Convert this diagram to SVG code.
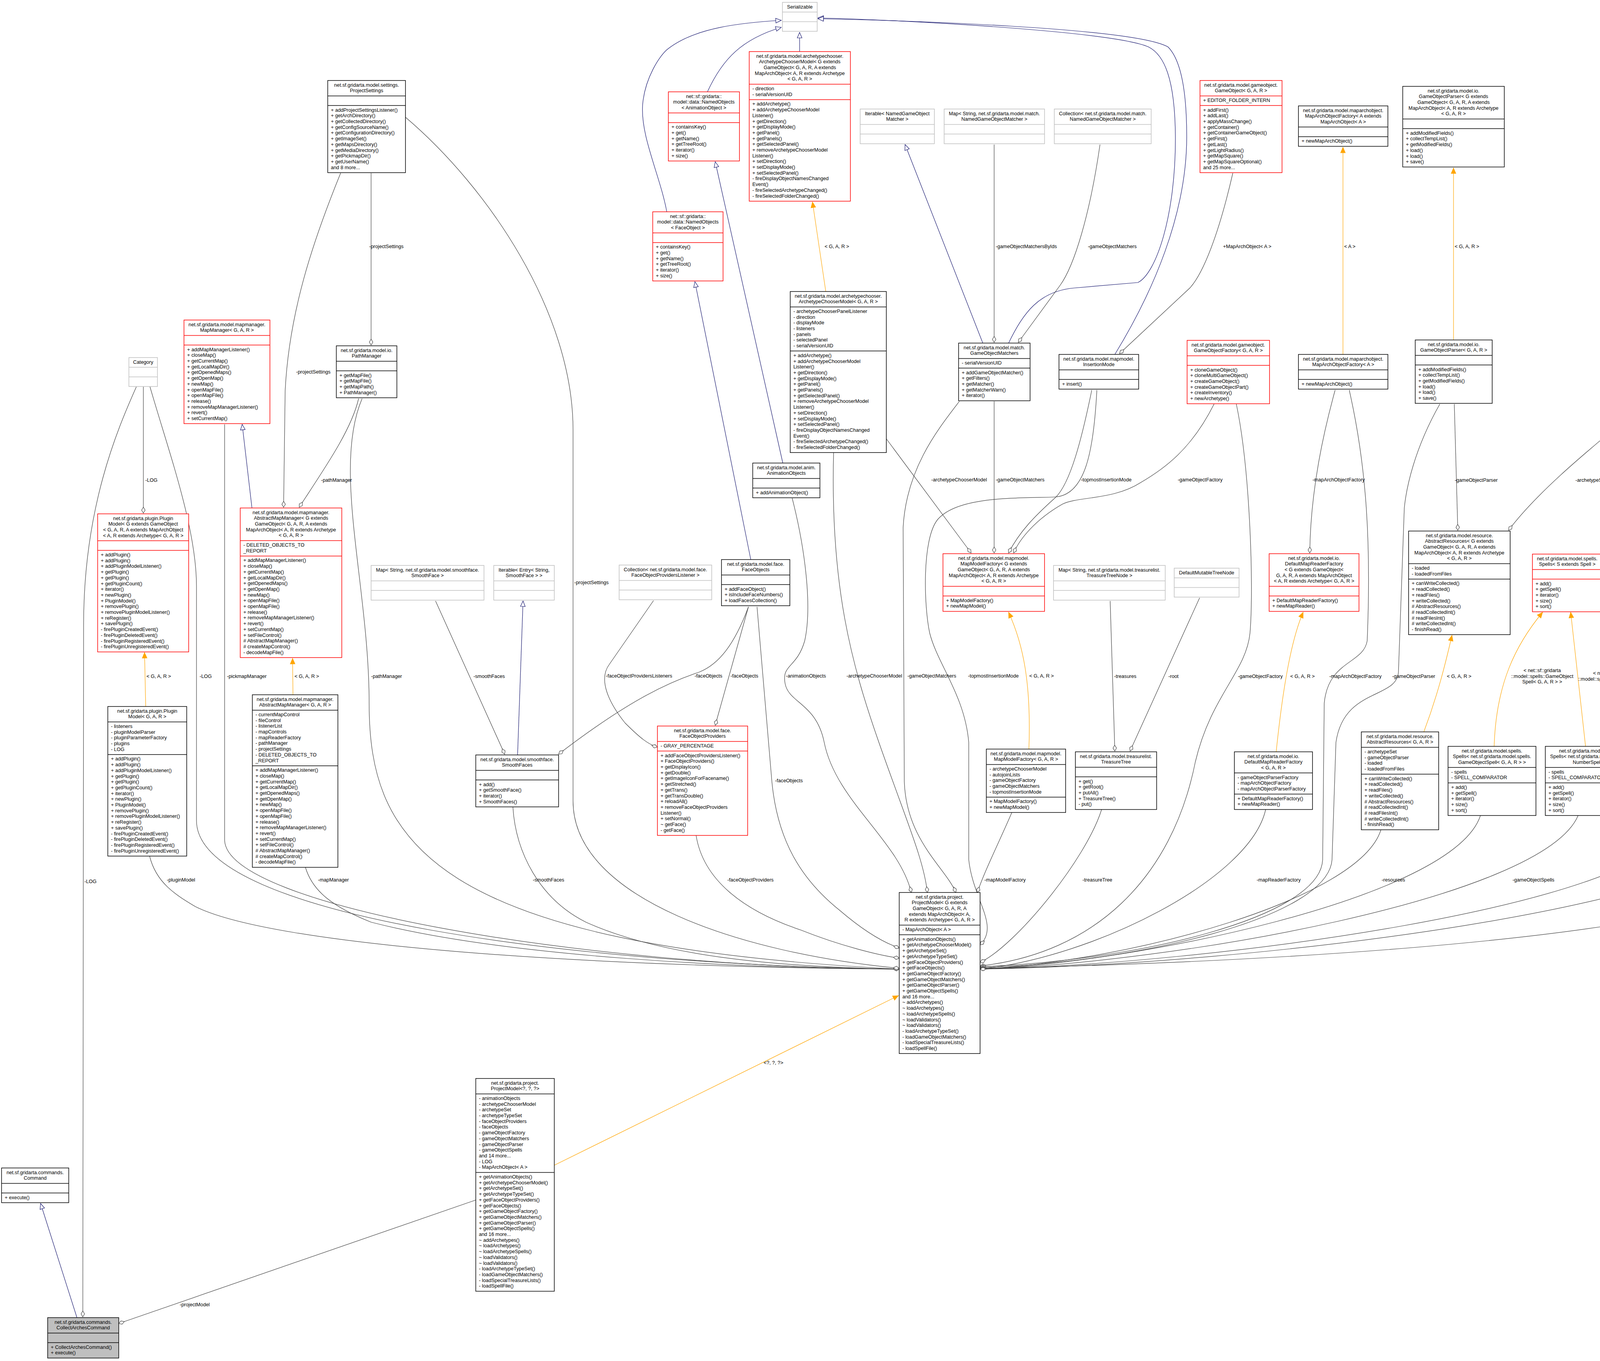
<svg xmlns="http://www.w3.org/2000/svg" width="4865" height="3483" viewBox="0 0 4865 3483">
<style>
text{font-family:"Liberation Sans",Arial,sans-serif;font-size:12.7px;fill:#000}
.t{text-anchor:middle}
.k rect,.k line{stroke:#000;stroke-width:1.5;fill:#fff}
.r rect,.r line{stroke:#ff0000;stroke-width:1.5;fill:#fff}
.g rect,.g line{stroke:#bfbfbf;stroke-width:1.5;fill:#fff}
.e path{fill:none;stroke-width:1.2}
.a{stroke:#404040;marker-end:url(#dia)}
.i{stroke:#191970;marker-end:url(#tri)}
.o{stroke:#ffa500;marker-end:url(#arr)}
</style>
<defs>
<marker id="dia" markerUnits="userSpaceOnUse" markerWidth="20" markerHeight="14" viewBox="-17 -7 18 14" refX="0" refY="0" orient="auto"><path d="M0,0 L-7.5,-4.5 L-15,0 L-7.5,4.5 Z" fill="#fff" stroke="#404040" stroke-width="1.2"/></marker>
<marker id="tri" markerUnits="userSpaceOnUse" markerWidth="18" markerHeight="16" viewBox="-16 -8 17 16" refX="0" refY="0" orient="auto"><path d="M0,0 L-14,-6 L-14,6 Z" fill="#fff" stroke="#191970" stroke-width="1.2"/></marker>
<marker id="arr" markerUnits="userSpaceOnUse" markerWidth="18" markerHeight="16" viewBox="-16 -8 17 16" refX="0" refY="0" orient="auto"><path d="M0,0 L-14,-6 L-14,6 Z" fill="#ffa500" stroke="#ffa500" stroke-width="1.2"/></marker>
</defs>
<rect width="4865" height="3483" fill="#fff"/>
<g id="connectors" class="e">
<path class="i" d="M1811 235 C1850 150 1900 100 2000 70"/>
<path class="i" d="M1707 542 C1690 450 1640 350 1645 270 C1650 200 1690 140 1710 125 C1780 70 1900 58 2000 52"/>
<path class="i" d="M2047 132 L2047 83"/>
<path class="i" d="M2582 878 C2620 800 2660 745 2750 737 L2913 723 C2960 700 3010 550 3009 350 C3008 200 2980 140 2940 120 C2850 80 2300 50 2094 46"/>
<path class="i" d="M2854 907 C2950 750 3038 550 3038 350 C3038 220 3020 150 2990 120 C2900 70 2300 52 2094 48"/>
<path class="i" d="M2516 878 L2317 370"/>
<path class="i" d="M2004 1185 L1831 414"/>
<path class="i" d="M1922 1432 L1779 721"/>
<path class="i" d="M1325 1932 L1339 1538"/>
<path class="i" d="M645 1300 L620 1086"/>
<path class="i" d="M197 3372 L104 3080"/>
<path class="o" d="M2114 746 L2080 517"/>
<path class="o" d="M3438 907 L3438 377"/>
<path class="o" d="M3721 870 L3721 430"/>
<path class="o" d="M373 1808 L370 1670"/>
<path class="o" d="M750 1778 L749 1685"/>
<path class="o" d="M2634 1917 C2640 1750 2620 1650 2582 1567"/>
<path class="o" d="M3267 1924 C3280 1800 3300 1650 3336 1567"/>
<path class="o" d="M3645 1873 C3680 1780 3700 1700 3717 1626"/>
<path class="o" d="M3825 1910 C3830 1750 3880 1650 3949 1567"/>
<path class="o" d="M4059 1910 L4021 1567"/>
<path class="o" d="M1419 2982 L2300 2548"/>
<path class="a" d="M950 443 L950 883"/>
<path class="a" d="M872 443 C800 620 740 800 730 1000 L726 1298"/>
<path class="a" d="M918 1020 C900 1100 830 1200 766 1298"/>
<path class="a" d="M367 990 L367 1313"/>
<path class="a" d="M349 990 C300 1100 214 1300 214 1600 L212 3370"/>
<path class="a" d="M1115 1538 L1292 1930"/>
<path class="a" d="M1916 1553 C1880 1650 1840 1700 1790 1720 C1700 1750 1600 1800 1430 1930"/>
<path class="a" d="M1673 1537 L1560 1700 C1530 1740 1560 1800 1600 1850 C1640 1890 1660 1905 1683 1912"/>
<path class="a" d="M1916 1553 L1831 1856"/>
<path class="a" d="M2545 370 L2545 876"/>
<path class="a" d="M2816 370 C2790 550 2750 680 2714 730 L2607 876"/>
<path class="a" d="M3156 443 C3120 600 3080 700 3046 737 L2866 905"/>
<path class="a" d="M3418 998 C3390 1100 3355 1250 3353 1415"/>
<path class="a" d="M3723 1034 L3732 1357"/>
<path class="a" d="M2842 1538 L2854 1922"/>
<path class="a" d="M3071 1530 L2893 1922"/>
<path class="a" d="M4196 1044 C4120 1110 3950 1240 3862 1357"/>
<path class="a" d="M2269 1123 L2486 1415"/>
<path class="a" d="M2545 1027 L2545 1415"/>
<path class="a" d="M2795 998 C2770 1120 2740 1240 2700 1275 C2650 1320 2610 1360 2582 1415"/>
<path class="a" d="M3108 1034 C3050 1150 2980 1200 2920 1235 C2850 1280 2760 1270 2720 1290 C2650 1330 2610 1380 2595 1415"/>
<path class="a" d="M1218 3071 L304 3387"/>
<path class="a" d="M384 990 C430 1150 503 1350 503 1500 L503 2100 C503 2350 1500 2470 2302 2480"/>
<path class="a" d="M383 2191 C400 2260 450 2290 500 2320 C700 2420 1500 2475 2302 2480"/>
<path class="a" d="M575 1086 L575 2150 C580 2320 1500 2475 2302 2480"/>
<path class="a" d="M782 2220 C800 2280 850 2320 950 2360 C1300 2450 1900 2478 2302 2480"/>
<path class="a" d="M927 1020 C850 1200 945 1500 945 1800 C945 2150 1100 2420 2302 2480"/>
<path class="a" d="M1313 2065 C1320 2180 1380 2300 1500 2360 C1700 2450 2000 2475 2302 2480"/>
<path class="a" d="M1038 300 C1250 480 1467 800 1467 1100 L1467 2050 C1467 2300 1900 2440 2302 2478"/>
<path class="a" d="M1782 2138 C1800 2250 1900 2330 2050 2380 C2150 2420 2250 2445 2302 2452"/>
<path class="a" d="M1938 1553 L1976 2000 C1990 2150 2050 2250 2150 2330 C2220 2390 2270 2415 2302 2426"/>
<path class="a" d="M2028 1275 C2060 1400 2080 1550 2060 1640 C2040 1710 2000 1700 2010 1750 C2020 1800 2090 1800 2110 1900 C2140 2050 2300 2150 2333 2284"/>
<path class="a" d="M2134 1158 C2125 1500 2180 1700 2250 1900 C2320 2100 2365 2200 2374 2284"/>
<path class="a" d="M2456 1027 C2400 1100 2320 1200 2312 1350 L2315 2000 C2320 2150 2420 2220 2447 2284"/>
<path class="a" d="M2808 998 C2800 1150 2780 1270 2698 1272 C2600 1275 2450 1270 2400 1330 C2360 1380 2365 1550 2380 1620 C2400 1700 2470 1780 2480 1900 L2480 2200 C2490 2300 2560 2370 2509 2418"/>
<path class="a" d="M2590 2080 C2560 2150 2520 2230 2502 2284"/>
<path class="a" d="M2820 2072 C2780 2200 2600 2420 2509 2463"/>
<path class="a" d="M3165 1034 C3200 1200 3210 1500 3200 1620 C3190 1720 3100 1780 3060 1950 C3000 2250 2800 2440 2509 2472"/>
<path class="a" d="M3454 998 C3500 1200 3510 1400 3500 1640 C3490 1700 3400 1690 3390 1800 L3386 2200 C3380 2350 2900 2460 2509 2474"/>
<path class="a" d="M3686 1034 C3620 1150 3600 1250 3595 1300 L3580 1720 C3575 1790 3440 1760 3420 1900 L3410 2200 C3400 2350 2900 2465 2509 2476"/>
<path class="a" d="M4407 1071 C4550 1250 4780 1500 4790 1750 C4795 2000 4700 2150 4550 2250 C4300 2420 3000 2470 2509 2478"/>
<path class="a" d="M3240 2072 C3200 2250 2800 2450 2509 2480"/>
<path class="a" d="M3535 2124 C3480 2300 2900 2460 2509 2480"/>
<path class="a" d="M3790 2087 C3720 2300 2900 2465 2509 2480"/>
<path class="a" d="M4040 2087 C3950 2300 3000 2465 2509 2480"/>
<path class="a" d="M4290 2116 C4200 2320 3100 2468 2509 2480"/>
<path class="a" d="M4525 2101 C4450 2320 3200 2470 2509 2480"/>
</g>
<g id="labels">
<text x="945" y="635">-projectSettings</text>
<text x="758" y="956">-projectSettings</text>
<text x="822" y="1233">-pathManager</text>
<text x="372" y="1233">-LOG</text>
<text x="216" y="2260">-LOG</text>
<text x="511" y="1735">-LOG</text>
<text x="375" y="1735">&lt; G, A, R &gt;</text>
<text x="581" y="1735">-pickmapManager</text>
<text x="754" y="1735">&lt; G, A, R &gt;</text>
<text x="950" y="1735">-pathManager</text>
<text x="1212" y="1735">-smoothFaces</text>
<text x="427" y="2256">-pluginModel</text>
<text x="814" y="2256">-mapManager</text>
<text x="1364" y="2256">-smoothFaces</text>
<text x="1470" y="1495">-projectSettings</text>
<text x="1551" y="1734">-faceObjectProvidersListeners</text>
<text x="1778" y="1734">-faceObjects</text>
<text x="1870" y="1734">-faceObjects</text>
<text x="2012" y="1734">-animationObjects</text>
<text x="2167" y="1734">-archetypeChooserModel</text>
<text x="2323" y="1734">-gameObjectMatchers</text>
<text x="2478" y="1734">-topmostInsertionMode</text>
<text x="2635" y="1734">&lt; G, A, R &gt;</text>
<text x="1984" y="2002">-faceObjects</text>
<text x="1862" y="2256">-faceObjectProviders</text>
<text x="2384" y="1232">-archetypeChooserModel</text>
<text x="2549" y="1232">-gameObjectMatchers</text>
<text x="2767" y="1232">-topmostInsertionMode</text>
<text x="3015" y="1232">-gameObjectFactory</text>
<text x="3360" y="1232">-mapArchObjectFactory</text>
<text x="3724" y="1233">-gameObjectParser</text>
<text x="4033" y="1233">-archetypeSet</text>
<text x="2852" y="1735">-treasures</text>
<text x="2991" y="1735">-root</text>
<text x="3169" y="1735">-gameObjectFactory</text>
<text x="3303" y="1735">&lt; G, A, R &gt;</text>
<text x="3403" y="1735">-mapArchObjectFactory</text>
<text x="3564" y="1735">-gameObjectParser</text>
<text x="3704" y="1735">&lt; G, A, R &gt;</text>
<text class="t" x="3948" y="1720">&lt; net::sf::gridarta<tspan x="3948" dy="14.5">::model::spells::GameObject</tspan><tspan x="3948" dy="14.5">Spell&lt; G, A, R &gt; &gt;</tspan></text>
<text class="t" x="4126" y="1727">&lt; net::sf::gridarta<tspan x="4126" dy="14.5">::model::spells::NumberSpell &gt;</tspan></text>
<text x="4772" y="1735">-archetypeSet</text>
<text x="2520" y="2256">-mapModelFactory</text>
<text x="2771" y="2256">-treasureTree</text>
<text x="3217" y="2256">-mapReaderFactory</text>
<text x="3537" y="2256">-resources</text>
<text x="3872" y="2256">-gameObjectSpells</text>
<text x="4120" y="2256">-numberSpells</text>
<text x="4282" y="2256">-archetypeTypeSet</text>
<text x="4505" y="2256">-validators</text>
<text x="2549" y="635">-gameObjectMatchersByIds</text>
<text x="2785" y="635">-gameObjectMatchers</text>
<text x="3131" y="635">+MapArchObject&lt; A &gt;</text>
<text x="3441" y="635">&lt; A &gt;</text>
<text x="3724" y="635">&lt; G, A, R &gt;</text>
<text x="2111" y="635">&lt; G, A, R &gt;</text>
<text x="1955" y="2724">&lt;?, ?, ?&gt;</text>
<text x="460" y="3343">-projectModel</text>
</g>
<g id="n1" class="g"><rect x="2003" y="6" width="89" height="74.1"/><line x1="2003" y1="30.7" x2="2092" y2="30.7"/><line x1="2003" y1="55.4" x2="2092" y2="55.4"/><text class="t" x="2047.5" y="21.5">Serializable</text></g>
<g id="n2" class="r"><rect x="1711" y="235" width="182" height="177"/><line x1="1711" y1="289.1" x2="1893" y2="289.1"/><line x1="1711" y1="313.8" x2="1893" y2="313.8"/>
<text class="t" x="1802" y="250.5">net::sf::gridarta::<tspan x="1802" dy="14.7">model::data::NamedObjects</tspan><tspan x="1802" dy="14.7">&lt; AnimationObject &gt;</tspan></text>
<text x="1719" y="329.3">+ containsKey()<tspan x="1719" dy="14.7">+ get()</tspan><tspan x="1719" dy="14.7">+ getName()</tspan><tspan x="1719" dy="14.7">+ getTreeRoot()</tspan><tspan x="1719" dy="14.7">+ iterator()</tspan><tspan x="1719" dy="14.7">+ size()</tspan></text></g>
<g id="n3" class="r"><rect x="1671" y="542" width="180" height="177"/><line x1="1671" y1="596.1" x2="1851" y2="596.1"/><line x1="1671" y1="620.8" x2="1851" y2="620.8"/>
<text class="t" x="1761" y="557.5">net::sf::gridarta::<tspan x="1761" dy="14.7">model::data::NamedObjects</tspan><tspan x="1761" dy="14.7">&lt; FaceObject &gt;</tspan></text>
<text x="1679" y="636.3">+ containsKey()<tspan x="1679" dy="14.7">+ get()</tspan><tspan x="1679" dy="14.7">+ getName()</tspan><tspan x="1679" dy="14.7">+ getTreeRoot()</tspan><tspan x="1679" dy="14.7">+ iterator()</tspan><tspan x="1679" dy="14.7">+ size()</tspan></text></g>
<g id="n4" class="r"><rect x="1918" y="132" width="259" height="382.8"/><line x1="1918" y1="215.5" x2="2177" y2="215.5"/><line x1="1918" y1="254.9" x2="2177" y2="254.9"/>
<text class="t" x="2047.5" y="147.5">net.sf.gridarta.model.archetypechooser.<tspan x="2047.5" dy="14.7">ArchetypeChooserModel&lt; G extends</tspan><tspan x="2047.5" dy="14.7">GameObject&lt; G, A, R, A extends</tspan><tspan x="2047.5" dy="14.7">MapArchObject&lt; A, R extends Archetype</tspan><tspan x="2047.5" dy="14.7">&lt; G, A, R &gt;</tspan></text>
<text x="1926" y="231">- direction<tspan x="1926" dy="14.7">- serialVersionUID</tspan></text>
<text x="1926" y="270.4">+ addArchetype()<tspan x="1926" dy="14.7">+ addArchetypeChooserModel</tspan><tspan x="1926" dy="14.7">Listener()</tspan><tspan x="1926" dy="14.7">+ getDirection()</tspan><tspan x="1926" dy="14.7">+ getDisplayMode()</tspan><tspan x="1926" dy="14.7">+ getPanel()</tspan><tspan x="1926" dy="14.7">+ getPanels()</tspan><tspan x="1926" dy="14.7">+ getSelectedPanel()</tspan><tspan x="1926" dy="14.7">+ removeArchetypeChooserModel</tspan><tspan x="1926" dy="14.7">Listener()</tspan><tspan x="1926" dy="14.7">+ setDirection()</tspan><tspan x="1926" dy="14.7">+ setDisplayMode()</tspan><tspan x="1926" dy="14.7">+ setSelectedPanel()</tspan><tspan x="1926" dy="14.7">- fireDisplayObjectNamesChanged</tspan><tspan x="1926" dy="14.7">Event()</tspan><tspan x="1926" dy="14.7">- fireSelectedArchetypeChanged()</tspan><tspan x="1926" dy="14.7">- fireSelectedFolderChanged()</tspan></text></g>
<g id="n5" class="k"><rect x="2023" y="746" width="246" height="412.2"/><line x1="2023" y1="785.4" x2="2269" y2="785.4"/><line x1="2023" y1="898.3" x2="2269" y2="898.3"/>
<text class="t" x="2146" y="761.5">net.sf.gridarta.model.archetypechooser.<tspan x="2146" dy="14.7">ArchetypeChooserModel&lt; G, A, R &gt;</tspan></text>
<text x="2031" y="800.9">- archetypeChooserPanelListener<tspan x="2031" dy="14.7">- direction</tspan><tspan x="2031" dy="14.7">- displayMode</tspan><tspan x="2031" dy="14.7">- listeners</tspan><tspan x="2031" dy="14.7">- panels</tspan><tspan x="2031" dy="14.7">- selectedPanel</tspan><tspan x="2031" dy="14.7">- serialVersionUID</tspan></text>
<text x="2031" y="913.8">+ addArchetype()<tspan x="2031" dy="14.7">+ addArchetypeChooserModel</tspan><tspan x="2031" dy="14.7">Listener()</tspan><tspan x="2031" dy="14.7">+ getDirection()</tspan><tspan x="2031" dy="14.7">+ getDisplayMode()</tspan><tspan x="2031" dy="14.7">+ getPanel()</tspan><tspan x="2031" dy="14.7">+ getPanels()</tspan><tspan x="2031" dy="14.7">+ getSelectedPanel()</tspan><tspan x="2031" dy="14.7">+ removeArchetypeChooserModel</tspan><tspan x="2031" dy="14.7">Listener()</tspan><tspan x="2031" dy="14.7">+ setDirection()</tspan><tspan x="2031" dy="14.7">+ setDisplayMode()</tspan><tspan x="2031" dy="14.7">+ setSelectedPanel()</tspan><tspan x="2031" dy="14.7">- fireDisplayObjectNamesChanged</tspan><tspan x="2031" dy="14.7">Event()</tspan><tspan x="2031" dy="14.7">- fireSelectedArchetypeChanged()</tspan><tspan x="2031" dy="14.7">- fireSelectedFolderChanged()</tspan></text></g>
<g id="n6" class="g"><rect x="2202" y="279" width="190" height="88.8"/><line x1="2202" y1="318.4" x2="2392" y2="318.4"/><line x1="2202" y1="343.1" x2="2392" y2="343.1"/><text class="t" x="2297" y="294.5">Iterable&lt; NamedGameObject<tspan x="2297" dy="14.7">Matcher &gt;</tspan></text></g>
<g id="n7" class="g"><rect x="2417" y="279" width="257" height="88.8"/><line x1="2417" y1="318.4" x2="2674" y2="318.4"/><line x1="2417" y1="343.1" x2="2674" y2="343.1"/><text class="t" x="2545.5" y="294.5">Map&lt; String, net.sf.gridarta.model.match.<tspan x="2545.5" dy="14.7">NamedGameObjectMatcher &gt;</tspan></text></g>
<g id="n8" class="g"><rect x="2699" y="279" width="248" height="88.8"/><line x1="2699" y1="318.4" x2="2947" y2="318.4"/><line x1="2699" y1="343.1" x2="2947" y2="343.1"/><text class="t" x="2823" y="294.5">Collection&lt; net.sf.gridarta.model.match.<tspan x="2823" dy="14.7">NamedGameObjectMatcher &gt;</tspan></text></g>
<g id="n9" class="k"><rect x="2454" y="878" width="183" height="147.6"/><line x1="2454" y1="917.4" x2="2637" y2="917.4"/><line x1="2454" y1="942.1" x2="2637" y2="942.1"/>
<text class="t" x="2545.5" y="893.5">net.sf.gridarta.model.match.<tspan x="2545.5" dy="14.7">GameObjectMatchers</tspan></text>
<text x="2462" y="932.9">- serialVersionUID</text>
<text x="2462" y="957.6">+ addGameObjectMatcher()<tspan x="2462" dy="14.7">+ getFilters()</tspan><tspan x="2462" dy="14.7">+ getMatcher()</tspan><tspan x="2462" dy="14.7">+ getMatcherWarn()</tspan><tspan x="2462" dy="14.7">+ iterator()</tspan></text></g>
<g id="n10" class="k"><rect x="2711" y="907" width="204" height="88.8"/><line x1="2711" y1="946.4" x2="2915" y2="946.4"/><line x1="2711" y1="971.1" x2="2915" y2="971.1"/>
<text class="t" x="2813" y="922.5">net.sf.gridarta.model.mapmodel.<tspan x="2813" dy="14.7">InsertionMode</tspan></text><text x="2719" y="986.6">+ insert()</text></g>
<g id="n11" class="r"><rect x="3072" y="206" width="210" height="235.8"/><line x1="3072" y1="245.4" x2="3282" y2="245.4"/><line x1="3072" y1="270.1" x2="3282" y2="270.1"/>
<text class="t" x="3177" y="221.5">net.sf.gridarta.model.gameobject.<tspan x="3177" dy="14.7">GameObject&lt; G, A, R &gt;</tspan></text>
<text x="3080" y="260.9">+ EDITOR_FOLDER_INTERN</text>
<text x="3080" y="285.6">+ addFirst()<tspan x="3080" dy="14.7">+ addLast()</tspan><tspan x="3080" dy="14.7">+ applyMassChange()</tspan><tspan x="3080" dy="14.7">+ getContainer()</tspan><tspan x="3080" dy="14.7">+ getContainerGameObject()</tspan><tspan x="3080" dy="14.7">+ getFirst()</tspan><tspan x="3080" dy="14.7">+ getLast()</tspan><tspan x="3080" dy="14.7">+ getLightRadius()</tspan><tspan x="3080" dy="14.7">+ getMapSquare()</tspan><tspan x="3080" dy="14.7">+ getMapSquareOptional()</tspan><tspan x="3080" dy="14.7">and 25 more...</tspan></text></g>
<g id="n12" class="r"><rect x="3039" y="871" width="211" height="162.3"/><line x1="3039" y1="910.4" x2="3250" y2="910.4"/><line x1="3039" y1="935.1" x2="3250" y2="935.1"/>
<text class="t" x="3144.5" y="886.5">net.sf.gridarta.model.gameobject.<tspan x="3144.5" dy="14.7">GameObjectFactory&lt; G, A, R &gt;</tspan></text>
<text x="3047" y="950.6">+ cloneGameObject()<tspan x="3047" dy="14.7">+ cloneMultiGameObject()</tspan><tspan x="3047" dy="14.7">+ createGameObject()</tspan><tspan x="3047" dy="14.7">+ createGameObjectPart()</tspan><tspan x="3047" dy="14.7">+ createInventory()</tspan><tspan x="3047" dy="14.7">+ newArchetype()</tspan></text></g>
<g id="n13" class="k"><rect x="3324" y="271" width="229" height="103.5"/><line x1="3324" y1="325.1" x2="3553" y2="325.1"/><line x1="3324" y1="349.8" x2="3553" y2="349.8"/>
<text class="t" x="3438.5" y="286.5">net.sf.gridarta.model.maparchobject.<tspan x="3438.5" dy="14.7">MapArchObjectFactory&lt; A extends</tspan><tspan x="3438.5" dy="14.7">MapArchObject&lt; A &gt;</tspan></text><text x="3332" y="365.3">+ newMapArchObject()</text></g>
<g id="n14" class="k"><rect x="3324" y="907" width="229" height="88.8"/><line x1="3324" y1="946.4" x2="3553" y2="946.4"/><line x1="3324" y1="971.1" x2="3553" y2="971.1"/>
<text class="t" x="3438.5" y="922.5">net.sf.gridarta.model.maparchobject.<tspan x="3438.5" dy="14.7">MapArchObjectFactory&lt; A &gt;</tspan></text><text x="3332" y="986.6">+ newMapArchObject()</text></g>
<g id="n15" class="k"><rect x="3591" y="221" width="260" height="206.4"/><line x1="3591" y1="304.5" x2="3851" y2="304.5"/><line x1="3591" y1="329.2" x2="3851" y2="329.2"/>
<text class="t" x="3721" y="236.5">net.sf.gridarta.model.io.<tspan x="3721" dy="14.7">GameObjectParser&lt; G extends</tspan><tspan x="3721" dy="14.7">GameObject&lt; G, A, R, A extends</tspan><tspan x="3721" dy="14.7">MapArchObject&lt; A, R extends Archetype</tspan><tspan x="3721" dy="14.7">&lt; G, A, R &gt;</tspan></text>
<text x="3599" y="344.7">+ addModifiedFields()<tspan x="3599" dy="14.7">+ collectTempList()</tspan><tspan x="3599" dy="14.7">+ getModifiedFields()</tspan><tspan x="3599" dy="14.7">+ load()</tspan><tspan x="3599" dy="14.7">+ load()</tspan><tspan x="3599" dy="14.7">+ save()</tspan></text></g>
<g id="n16" class="k"><rect x="3623" y="870" width="197" height="162.3"/><line x1="3623" y1="909.4" x2="3820" y2="909.4"/><line x1="3623" y1="934.1" x2="3820" y2="934.1"/>
<text class="t" x="3721.5" y="885.5">net.sf.gridarta.model.io.<tspan x="3721.5" dy="14.7">GameObjectParser&lt; G, A, R &gt;</tspan></text>
<text x="3631" y="949.6">+ addModifiedFields()<tspan x="3631" dy="14.7">+ collectTempList()</tspan><tspan x="3631" dy="14.7">+ getModifiedFields()</tspan><tspan x="3631" dy="14.7">+ load()</tspan><tspan x="3631" dy="14.7">+ load()</tspan><tspan x="3631" dy="14.7">+ save()</tspan></text></g>
<g id="n17" class="r"><rect x="4196" y="834" width="219" height="235.8"/><line x1="4196" y1="873.4" x2="4415" y2="873.4"/><line x1="4196" y1="898.1" x2="4415" y2="898.1"/>
<text class="t" x="4305.5" y="849.5">net.sf.gridarta.model.archetypeset.<tspan x="4305.5" dy="14.7">ArchetypeSet&lt; G, A, R &gt;</tspan></text>
<text x="4204" y="913.6">+ addArchetype()<tspan x="4204" dy="14.7">+ addArchetypeSetListener()</tspan><tspan x="4204" dy="14.7">+ connectFaces()</tspan><tspan x="4204" dy="14.7">+ getArchetype()</tspan><tspan x="4204" dy="14.7">+ getArchetypeCount()</tspan><tspan x="4204" dy="14.7">+ getArchetypes()</tspan><tspan x="4204" dy="14.7">+ getImageSet()</tspan><tspan x="4204" dy="14.7">+ getOrCreateArchetype()</tspan><tspan x="4204" dy="14.7">+ isLoadedFromArchive()</tspan><tspan x="4204" dy="14.7">+ removeArchetypeSetListener()</tspan><tspan x="4204" dy="14.7">+ setLoadedFromArchive()</tspan></text></g>
<g id="n18" class="k"><rect x="839" y="206" width="199" height="235.8"/><line x1="839" y1="245.4" x2="1038" y2="245.4"/><line x1="839" y1="270.1" x2="1038" y2="270.1"/>
<text class="t" x="938.5" y="221.5">net.sf.gridarta.model.settings.<tspan x="938.5" dy="14.7">ProjectSettings</tspan></text>
<text x="847" y="285.6">+ addProjectSettingsListener()<tspan x="847" dy="14.7">+ getArchDirectory()</tspan><tspan x="847" dy="14.7">+ getCollectedDirectory()</tspan><tspan x="847" dy="14.7">+ getConfigSourceName()</tspan><tspan x="847" dy="14.7">+ getConfigurationDirectory()</tspan><tspan x="847" dy="14.7">+ getImageSet()</tspan><tspan x="847" dy="14.7">+ getMapsDirectory()</tspan><tspan x="847" dy="14.7">+ getMediaDirectory()</tspan><tspan x="847" dy="14.7">+ getPickmapDir()</tspan><tspan x="847" dy="14.7">+ getUserName()</tspan><tspan x="847" dy="14.7">and 8 more...</tspan></text></g>
<g id="n19" class="k"><rect x="861" y="885" width="155" height="132.9"/><line x1="861" y1="924.4" x2="1016" y2="924.4"/><line x1="861" y1="949.1" x2="1016" y2="949.1"/>
<text class="t" x="938.5" y="900.5">net.sf.gridarta.model.io.<tspan x="938.5" dy="14.7">PathManager</tspan></text>
<text x="869" y="964.6">+ getMapFile()<tspan x="869" dy="14.7">+ getMapFile()</tspan><tspan x="869" dy="14.7">+ getMapPath()</tspan><tspan x="869" dy="14.7">+ PathManager()</tspan></text></g>
<g id="n20" class="r"><rect x="471" y="819" width="220" height="265.2"/><line x1="471" y1="858.4" x2="691" y2="858.4"/><line x1="471" y1="883.1" x2="691" y2="883.1"/>
<text class="t" x="581" y="834.5">net.sf.gridarta.model.mapmanager.<tspan x="581" dy="14.7">MapManager&lt; G, A, R &gt;</tspan></text>
<text x="479" y="898.6">+ addMapManagerListener()<tspan x="479" dy="14.7">+ closeMap()</tspan><tspan x="479" dy="14.7">+ getCurrentMap()</tspan><tspan x="479" dy="14.7">+ getLocalMapDir()</tspan><tspan x="479" dy="14.7">+ getOpenedMaps()</tspan><tspan x="479" dy="14.7">+ getOpenMap()</tspan><tspan x="479" dy="14.7">+ newMap()</tspan><tspan x="479" dy="14.7">+ openMapFile()</tspan><tspan x="479" dy="14.7">+ openMapFile()</tspan><tspan x="479" dy="14.7">+ release()</tspan><tspan x="479" dy="14.7">+ removeMapManagerListener()</tspan><tspan x="479" dy="14.7">+ revert()</tspan><tspan x="479" dy="14.7">+ setCurrentMap()</tspan></text></g>
<g id="n21" class="g"><rect x="330" y="915" width="73" height="74.1"/><line x1="330" y1="939.7" x2="403" y2="939.7"/><line x1="330" y1="964.4" x2="403" y2="964.4"/><text class="t" x="366.5" y="930.5">Category</text></g>
<g id="n22" class="r"><rect x="250" y="1315" width="233" height="353.4"/><line x1="250" y1="1383.8" x2="483" y2="1383.8"/><line x1="250" y1="1408.5" x2="483" y2="1408.5"/>
<text class="t" x="366.5" y="1330.5">net.sf.gridarta.plugin.Plugin<tspan x="366.5" dy="14.7">Model&lt; G extends GameObject</tspan><tspan x="366.5" dy="14.7">&lt; G, A, R, A extends MapArchObject</tspan><tspan x="366.5" dy="14.7">&lt; A, R extends Archetype&lt; G, A, R &gt;</tspan></text>
<text x="258" y="1424">+ addPlugin()<tspan x="258" dy="14.7">+ addPlugin()</tspan><tspan x="258" dy="14.7">+ addPluginModelListener()</tspan><tspan x="258" dy="14.7">+ getPlugin()</tspan><tspan x="258" dy="14.7">+ getPlugin()</tspan><tspan x="258" dy="14.7">+ getPluginCount()</tspan><tspan x="258" dy="14.7">+ iterator()</tspan><tspan x="258" dy="14.7">+ newPlugin()</tspan><tspan x="258" dy="14.7">+ PluginModel()</tspan><tspan x="258" dy="14.7">+ removePlugin()</tspan><tspan x="258" dy="14.7">+ removePluginModelListener()</tspan><tspan x="258" dy="14.7">+ reRegister()</tspan><tspan x="258" dy="14.7">+ savePlugin()</tspan><tspan x="258" dy="14.7">- firePluginCreatedEvent()</tspan><tspan x="258" dy="14.7">- firePluginDeletedEvent()</tspan><tspan x="258" dy="14.7">- firePluginRegisteredEvent()</tspan><tspan x="258" dy="14.7">- firePluginUnregisteredEvent()</tspan></text></g>
<g id="n23" class="k"><rect x="276" y="1808" width="202" height="382.8"/><line x1="276" y1="1847.4" x2="478" y2="1847.4"/><line x1="276" y1="1930.9" x2="478" y2="1930.9"/>
<text class="t" x="377" y="1823.5">net.sf.gridarta.plugin.Plugin<tspan x="377" dy="14.7">Model&lt; G, A, R &gt;</tspan></text>
<text x="284" y="1862.9">- listeners<tspan x="284" dy="14.7">- pluginModelParser</tspan><tspan x="284" dy="14.7">- pluginParameterFactory</tspan><tspan x="284" dy="14.7">- plugins</tspan><tspan x="284" dy="14.7">- LOG</tspan></text>
<text x="284" y="1946.4">+ addPlugin()<tspan x="284" dy="14.7">+ addPlugin()</tspan><tspan x="284" dy="14.7">+ addPluginModelListener()</tspan><tspan x="284" dy="14.7">+ getPlugin()</tspan><tspan x="284" dy="14.7">+ getPlugin()</tspan><tspan x="284" dy="14.7">+ getPluginCount()</tspan><tspan x="284" dy="14.7">+ iterator()</tspan><tspan x="284" dy="14.7">+ newPlugin()</tspan><tspan x="284" dy="14.7">+ PluginModel()</tspan><tspan x="284" dy="14.7">+ removePlugin()</tspan><tspan x="284" dy="14.7">+ removePluginModelListener()</tspan><tspan x="284" dy="14.7">+ reRegister()</tspan><tspan x="284" dy="14.7">+ savePlugin()</tspan><tspan x="284" dy="14.7">- firePluginCreatedEvent()</tspan><tspan x="284" dy="14.7">- firePluginDeletedEvent()</tspan><tspan x="284" dy="14.7">- firePluginRegisteredEvent()</tspan><tspan x="284" dy="14.7">- firePluginUnregisteredEvent()</tspan></text></g>
<g id="n24" class="r"><rect x="615" y="1300" width="260" height="382.8"/><line x1="615" y1="1383.5" x2="875" y2="1383.5"/><line x1="615" y1="1422.9" x2="875" y2="1422.9"/>
<text class="t" x="745" y="1315.5">net.sf.gridarta.model.mapmanager.<tspan x="745" dy="14.7">AbstractMapManager&lt; G extends</tspan><tspan x="745" dy="14.7">GameObject&lt; G, A, R, A extends</tspan><tspan x="745" dy="14.7">MapArchObject&lt; A, R extends Archetype</tspan><tspan x="745" dy="14.7">&lt; G, A, R &gt;</tspan></text>
<text x="623" y="1399">- DELETED_OBJECTS_TO<tspan x="623" dy="14.7">_REPORT</tspan></text>
<text x="623" y="1438.4">+ addMapManagerListener()<tspan x="623" dy="14.7">+ closeMap()</tspan><tspan x="623" dy="14.7">+ getCurrentMap()</tspan><tspan x="623" dy="14.7">+ getLocalMapDir()</tspan><tspan x="623" dy="14.7">+ getOpenedMaps()</tspan><tspan x="623" dy="14.7">+ getOpenMap()</tspan><tspan x="623" dy="14.7">+ newMap()</tspan><tspan x="623" dy="14.7">+ openMapFile()</tspan><tspan x="623" dy="14.7">+ openMapFile()</tspan><tspan x="623" dy="14.7">+ release()</tspan><tspan x="623" dy="14.7">+ removeMapManagerListener()</tspan><tspan x="623" dy="14.7">+ revert()</tspan><tspan x="623" dy="14.7">+ setCurrentMap()</tspan><tspan x="623" dy="14.7">+ setFileControl()</tspan><tspan x="623" dy="14.7"># AbstractMapManager()</tspan><tspan x="623" dy="14.7"># createMapControl()</tspan><tspan x="623" dy="14.7">- decodeMapFile()</tspan></text></g>
<g id="n25" class="k"><rect x="646" y="1778" width="219" height="441.6"/><line x1="646" y1="1817.4" x2="865" y2="1817.4"/><line x1="646" y1="1959.7" x2="865" y2="1959.7"/>
<text class="t" x="755.5" y="1793.5">net.sf.gridarta.model.mapmanager.<tspan x="755.5" dy="14.7">AbstractMapManager&lt; G, A, R &gt;</tspan></text>
<text x="654" y="1832.9">- currentMapControl<tspan x="654" dy="14.7">- fileControl</tspan><tspan x="654" dy="14.7">- listenerList</tspan><tspan x="654" dy="14.7">- mapControls</tspan><tspan x="654" dy="14.7">- mapReaderFactory</tspan><tspan x="654" dy="14.7">- pathManager</tspan><tspan x="654" dy="14.7">- projectSettings</tspan><tspan x="654" dy="14.7">- DELETED_OBJECTS_TO</tspan><tspan x="654" dy="14.7">_REPORT</tspan></text>
<text x="654" y="1975.2">+ addMapManagerListener()<tspan x="654" dy="14.7">+ closeMap()</tspan><tspan x="654" dy="14.7">+ getCurrentMap()</tspan><tspan x="654" dy="14.7">+ getLocalMapDir()</tspan><tspan x="654" dy="14.7">+ getOpenedMaps()</tspan><tspan x="654" dy="14.7">+ getOpenMap()</tspan><tspan x="654" dy="14.7">+ newMap()</tspan><tspan x="654" dy="14.7">+ openMapFile()</tspan><tspan x="654" dy="14.7">+ openMapFile()</tspan><tspan x="654" dy="14.7">+ release()</tspan><tspan x="654" dy="14.7">+ removeMapManagerListener()</tspan><tspan x="654" dy="14.7">+ revert()</tspan><tspan x="654" dy="14.7">+ setCurrentMap()</tspan><tspan x="654" dy="14.7">+ setFileControl()</tspan><tspan x="654" dy="14.7"># AbstractMapManager()</tspan><tspan x="654" dy="14.7"># createMapControl()</tspan><tspan x="654" dy="14.7">- decodeMapFile()</tspan></text></g>
<g id="n26" class="g"><rect x="950" y="1447" width="289" height="88.8"/><line x1="950" y1="1486.4" x2="1239" y2="1486.4"/><line x1="950" y1="1511.1" x2="1239" y2="1511.1"/><text class="t" x="1094.5" y="1462.5">Map&lt; String, net.sf.gridarta.model.smoothface.<tspan x="1094.5" dy="14.7">SmoothFace &gt;</tspan></text></g>
<g id="n27" class="g"><rect x="1264" y="1447" width="155" height="88.8"/><line x1="1264" y1="1486.4" x2="1419" y2="1486.4"/><line x1="1264" y1="1511.1" x2="1419" y2="1511.1"/><text class="t" x="1341.5" y="1462.5">Iterable&lt; Entry&lt; String,<tspan x="1341.5" dy="14.7">SmoothFace &gt; &gt;</tspan></text></g>
<g id="n28" class="k"><rect x="1218" y="1932" width="212" height="132.9"/><line x1="1218" y1="1971.4" x2="1430" y2="1971.4"/><line x1="1218" y1="1996.1" x2="1430" y2="1996.1"/>
<text class="t" x="1324" y="1947.5">net.sf.gridarta.model.smoothface.<tspan x="1324" dy="14.7">SmoothFaces</tspan></text>
<text x="1226" y="2011.6">+ add()<tspan x="1226" dy="14.7">+ getSmoothFace()</tspan><tspan x="1226" dy="14.7">+ iterator()</tspan><tspan x="1226" dy="14.7">+ SmoothFaces()</tspan></text></g>
<g id="n29" class="k"><rect x="1927" y="1185" width="172" height="88.8"/><line x1="1927" y1="1224.4" x2="2099" y2="1224.4"/><line x1="1927" y1="1249.1" x2="2099" y2="1249.1"/>
<text class="t" x="2013" y="1200.5">net.sf.gridarta.model.anim.<tspan x="2013" dy="14.7">AnimationObjects</tspan></text><text x="1935" y="1264.6">+ addAnimationObject()</text></g>
<g id="n30" class="g"><rect x="1585" y="1446" width="237" height="88.8"/><line x1="1585" y1="1485.4" x2="1822" y2="1485.4"/><line x1="1585" y1="1510.1" x2="1822" y2="1510.1"/><text class="t" x="1703.5" y="1461.5">Collection&lt; net.sf.gridarta.model.face.<tspan x="1703.5" dy="14.7">FaceObjectProvidersListener &gt;</tspan></text></g>
<g id="n31" class="k"><rect x="1847" y="1432" width="175" height="118.2"/><line x1="1847" y1="1471.4" x2="2022" y2="1471.4"/><line x1="1847" y1="1496.1" x2="2022" y2="1496.1"/>
<text class="t" x="1934.5" y="1447.5">net.sf.gridarta.model.face.<tspan x="1934.5" dy="14.7">FaceObjects</tspan></text>
<text x="1855" y="1511.6">+ addFaceObject()<tspan x="1855" dy="14.7">+ isIncludeFaceNumbers()</tspan><tspan x="1855" dy="14.7">+ loadFacesCollection()</tspan></text></g>
<g id="n32" class="r"><rect x="1683" y="1858" width="231" height="279.9"/><line x1="1683" y1="1897.4" x2="1914" y2="1897.4"/><line x1="1683" y1="1922.1" x2="1914" y2="1922.1"/>
<text class="t" x="1798.5" y="1873.5">net.sf.gridarta.model.face.<tspan x="1798.5" dy="14.7">FaceObjectProviders</tspan></text>
<text x="1691" y="1912.9">- GRAY_PERCENTAGE</text>
<text x="1691" y="1937.6">+ addFaceObjectProvidersListener()<tspan x="1691" dy="14.7">+ FaceObjectProviders()</tspan><tspan x="1691" dy="14.7">+ getDisplayIcon()</tspan><tspan x="1691" dy="14.7">+ getDouble()</tspan><tspan x="1691" dy="14.7">+ getImageIconForFacename()</tspan><tspan x="1691" dy="14.7">+ getStretched()</tspan><tspan x="1691" dy="14.7">+ getTrans()</tspan><tspan x="1691" dy="14.7">+ getTransDouble()</tspan><tspan x="1691" dy="14.7">+ reloadAll()</tspan><tspan x="1691" dy="14.7">+ removeFaceObjectProviders</tspan><tspan x="1691" dy="14.7">Listener()</tspan><tspan x="1691" dy="14.7">+ setNormal()</tspan><tspan x="1691" dy="14.7">~ getFace()</tspan><tspan x="1691" dy="14.7">- getFace()</tspan></text></g>
<g id="n33" class="r"><rect x="2414" y="1417" width="260" height="147.6"/><line x1="2414" y1="1500.5" x2="2674" y2="1500.5"/><line x1="2414" y1="1525.2" x2="2674" y2="1525.2"/>
<text class="t" x="2544" y="1432.5">net.sf.gridarta.model.mapmodel.<tspan x="2544" dy="14.7">MapModelFactory&lt; G extends</tspan><tspan x="2544" dy="14.7">GameObject&lt; G, A, R, A extends</tspan><tspan x="2544" dy="14.7">MapArchObject&lt; A, R extends Archetype</tspan><tspan x="2544" dy="14.7">&lt; G, A, R &gt;</tspan></text>
<text x="2422" y="1540.7">+ MapModelFactory()<tspan x="2422" dy="14.7">+ newMapModel()</tspan></text></g>
<g id="n34" class="g"><rect x="2697" y="1447" width="286" height="88.8"/><line x1="2697" y1="1486.4" x2="2983" y2="1486.4"/><line x1="2697" y1="1511.1" x2="2983" y2="1511.1"/><text class="t" x="2840" y="1462.5">Map&lt; String, net.sf.gridarta.model.treasurelist.<tspan x="2840" dy="14.7">TreasureTreeNode &gt;</tspan></text></g>
<g id="n35" class="g"><rect x="3006" y="1454" width="166" height="74.1"/><line x1="3006" y1="1478.7" x2="3172" y2="1478.7"/><line x1="3006" y1="1503.4" x2="3172" y2="1503.4"/><text class="t" x="3089" y="1469.5">DefaultMutableTreeNode</text></g>
<g id="n36" class="r"><rect x="3249" y="1417" width="230" height="147.6"/><line x1="3249" y1="1500.5" x2="3479" y2="1500.5"/><line x1="3249" y1="1525.2" x2="3479" y2="1525.2"/>
<text class="t" x="3364" y="1432.5">net.sf.gridarta.model.io.<tspan x="3364" dy="14.7">DefaultMapReaderFactory</tspan><tspan x="3364" dy="14.7">&lt; G extends GameObject&lt;</tspan><tspan x="3364" dy="14.7">G, A, R, A extends MapArchObject</tspan><tspan x="3364" dy="14.7">&lt; A, R extends Archetype&lt; G, A, R &gt;</tspan></text>
<text x="3257" y="1540.7">+ DefaultMapReaderFactory()<tspan x="3257" dy="14.7">+ newMapReader()</tspan></text></g>
<g id="n37" class="k"><rect x="2525" y="1917" width="203" height="162.3"/><line x1="2525" y1="1956.4" x2="2728" y2="1956.4"/><line x1="2525" y1="2039.9" x2="2728" y2="2039.9"/>
<text class="t" x="2626.5" y="1932.5">net.sf.gridarta.model.mapmodel.<tspan x="2626.5" dy="14.7">MapModelFactory&lt; G, A, R &gt;</tspan></text>
<text x="2533" y="1971.9">- archetypeChooserModel<tspan x="2533" dy="14.7">- autojoinLists</tspan><tspan x="2533" dy="14.7">- gameObjectFactory</tspan><tspan x="2533" dy="14.7">- gameObjectMatchers</tspan><tspan x="2533" dy="14.7">- topmostInsertionMode</tspan></text>
<text x="2533" y="2055.4">+ MapModelFactory()<tspan x="2533" dy="14.7">+ newMapModel()</tspan></text></g>
<g id="n38" class="k"><rect x="2753" y="1924" width="208" height="147.6"/><line x1="2753" y1="1963.4" x2="2961" y2="1963.4"/><line x1="2753" y1="1988.1" x2="2961" y2="1988.1"/>
<text class="t" x="2857" y="1939.5">net.sf.gridarta.model.treasurelist.<tspan x="2857" dy="14.7">TreasureTree</tspan></text>
<text x="2761" y="2003.6">+ get()<tspan x="2761" dy="14.7">+ getRoot()</tspan><tspan x="2761" dy="14.7">+ putAll()</tspan><tspan x="2761" dy="14.7">+ TreasureTree()</tspan><tspan x="2761" dy="14.7">- put()</tspan></text></g>
<g id="n39" class="k"><rect x="3160" y="1924" width="200" height="147.6"/><line x1="3160" y1="1978.1" x2="3360" y2="1978.1"/><line x1="3160" y1="2032.2" x2="3360" y2="2032.2"/>
<text class="t" x="3260" y="1939.5">net.sf.gridarta.model.io.<tspan x="3260" dy="14.7">DefaultMapReaderFactory</tspan><tspan x="3260" dy="14.7">&lt; G, A, R &gt;</tspan></text>
<text x="3168" y="1993.6">- gameObjectParserFactory<tspan x="3168" dy="14.7">- mapArchObjectFactory</tspan><tspan x="3168" dy="14.7">- mapArchObjectParserFactory</tspan></text>
<text x="3168" y="2047.7">+ DefaultMapReaderFactory()<tspan x="3168" dy="14.7">+ newMapReader()</tspan></text></g>
<g id="n40" class="k"><rect x="3606" y="1359" width="260" height="265.2"/><line x1="3606" y1="1442.5" x2="3866" y2="1442.5"/><line x1="3606" y1="1481.9" x2="3866" y2="1481.9"/>
<text class="t" x="3736" y="1374.5">net.sf.gridarta.model.resource.<tspan x="3736" dy="14.7">AbstractResources&lt; G extends</tspan><tspan x="3736" dy="14.7">GameObject&lt; G, A, R, A extends</tspan><tspan x="3736" dy="14.7">MapArchObject&lt; A, R extends Archetype</tspan><tspan x="3736" dy="14.7">&lt; G, A, R &gt;</tspan></text>
<text x="3614" y="1458">- loaded<tspan x="3614" dy="14.7">- loadedFromFiles</tspan></text>
<text x="3614" y="1497.4">+ canWriteCollected()<tspan x="3614" dy="14.7">+ readCollected()</tspan><tspan x="3614" dy="14.7">+ readFiles()</tspan><tspan x="3614" dy="14.7">+ writeCollected()</tspan><tspan x="3614" dy="14.7"># AbstractResources()</tspan><tspan x="3614" dy="14.7"># readCollectedInt()</tspan><tspan x="3614" dy="14.7"># readFilesInt()</tspan><tspan x="3614" dy="14.7"># writeCollectedInt()</tspan><tspan x="3614" dy="14.7">- finishRead()</tspan></text></g>
<g id="n41" class="r"><rect x="3923" y="1418" width="178" height="147.6"/><line x1="3923" y1="1457.4" x2="4101" y2="1457.4"/><line x1="3923" y1="1482.1" x2="4101" y2="1482.1"/>
<text class="t" x="4012" y="1433.5">net.sf.gridarta.model.spells.<tspan x="4012" dy="14.7">Spells&lt; S extends Spell &gt;</tspan></text>
<text x="3931" y="1497.6">+ add()<tspan x="3931" dy="14.7">+ getSpell()</tspan><tspan x="3931" dy="14.7">+ iterator()</tspan><tspan x="3931" dy="14.7">+ size()</tspan><tspan x="3931" dy="14.7">+ sort()</tspan></text></g>
<g id="n42" class="k"><rect x="3485" y="1873" width="198" height="250.5"/><line x1="3485" y1="1912.4" x2="3683" y2="1912.4"/><line x1="3485" y1="1981.2" x2="3683" y2="1981.2"/>
<text class="t" x="3584" y="1888.5">net.sf.gridarta.model.resource.<tspan x="3584" dy="14.7">AbstractResources&lt; G, A, R &gt;</tspan></text>
<text x="3493" y="1927.9">- archetypeSet<tspan x="3493" dy="14.7">- gameObjectParser</tspan><tspan x="3493" dy="14.7">- loaded</tspan><tspan x="3493" dy="14.7">- loadedFromFiles</tspan></text>
<text x="3493" y="1996.7">+ canWriteCollected()<tspan x="3493" dy="14.7">+ readCollected()</tspan><tspan x="3493" dy="14.7">+ readFiles()</tspan><tspan x="3493" dy="14.7">+ writeCollected()</tspan><tspan x="3493" dy="14.7"># AbstractResources()</tspan><tspan x="3493" dy="14.7"># readCollectedInt()</tspan><tspan x="3493" dy="14.7"># readFilesInt()</tspan><tspan x="3493" dy="14.7"># writeCollectedInt()</tspan><tspan x="3493" dy="14.7">- finishRead()</tspan></text></g>
<g id="n43" class="k"><rect x="3707" y="1910" width="225" height="177"/><line x1="3707" y1="1964.1" x2="3932" y2="1964.1"/><line x1="3707" y1="2003.5" x2="3932" y2="2003.5"/>
<text class="t" x="3819.5" y="1925.5">net.sf.gridarta.model.spells.<tspan x="3819.5" dy="14.7">Spells&lt; net.sf.gridarta.model.spells.</tspan><tspan x="3819.5" dy="14.7">GameObjectSpell&lt; G, A, R &gt; &gt;</tspan></text>
<text x="3715" y="1979.6">- spells<tspan x="3715" dy="14.7">- SPELL_COMPARATOR</tspan></text>
<text x="3715" y="2019">+ add()<tspan x="3715" dy="14.7">+ getSpell()</tspan><tspan x="3715" dy="14.7">+ iterator()</tspan><tspan x="3715" dy="14.7">+ size()</tspan><tspan x="3715" dy="14.7">+ sort()</tspan></text></g>
<g id="n44" class="k"><rect x="3956" y="1910" width="225" height="177"/><line x1="3956" y1="1964.1" x2="4181" y2="1964.1"/><line x1="3956" y1="2003.5" x2="4181" y2="2003.5"/>
<text class="t" x="4068.5" y="1925.5">net.sf.gridarta.model.spells.<tspan x="4068.5" dy="14.7">Spells&lt; net.sf.gridarta.model.spells.</tspan><tspan x="4068.5" dy="14.7">NumberSpell &gt;</tspan></text>
<text x="3964" y="1979.6">- spells<tspan x="3964" dy="14.7">- SPELL_COMPARATOR</tspan></text>
<text x="3964" y="2019">+ add()<tspan x="3964" dy="14.7">+ getSpell()</tspan><tspan x="3964" dy="14.7">+ iterator()</tspan><tspan x="3964" dy="14.7">+ size()</tspan><tspan x="3964" dy="14.7">+ sort()</tspan></text></g>
<g id="n45" class="r"><rect x="4206" y="1880" width="227" height="235.8"/><line x1="4206" y1="1919.4" x2="4433" y2="1919.4"/><line x1="4206" y1="1944.1" x2="4433" y2="1944.1"/>
<text class="t" x="4319.5" y="1895.5">net.sf.gridarta.model.archetypetype.<tspan x="4319.5" dy="14.7">ArchetypeTypeSet</tspan></text>
<text x="4214" y="1959.6">+ addArchetypeType()<tspan x="4214" dy="14.7">+ addAttributeOrder()</tspan><tspan x="4214" dy="14.7">+ addBitmask()</tspan><tspan x="4214" dy="14.7">+ addList()</tspan><tspan x="4214" dy="14.7">+ getArchetypeType()</tspan><tspan x="4214" dy="14.7">+ getArchetypeTypeByBaseObject()</tspan><tspan x="4214" dy="14.7">+ getArchetypeTypeByName()</tspan><tspan x="4214" dy="14.7">+ getArchetypeTypeCount()</tspan><tspan x="4214" dy="14.7">+ getArchetypeTypeIndex()</tspan><tspan x="4214" dy="14.7">+ getAttributeOrderComparator()</tspan><tspan x="4214" dy="14.7">and 6 more...</tspan></text></g>
<g id="n46" class="r"><rect x="4458" y="1895" width="223" height="206.4"/><line x1="4458" y1="1934.4" x2="4681" y2="1934.4"/><line x1="4458" y1="1973.8" x2="4681" y2="1973.8"/>
<text class="t" x="4569.5" y="1910.5">net.sf.gridarta.model.validation.<tspan x="4569.5" dy="14.7">DelegatingMapValidator&lt; G, A, R &gt;</tspan></text>
<text x="4466" y="1949.9">+ DEFAULT_KEY<tspan x="4466" dy="14.7">- validators</tspan></text>
<text x="4466" y="1989.3">+ addValidator()<tspan x="4466" dy="14.7">+ DelegatingMapValidator()</tspan><tspan x="4466" dy="14.7">+ iterator()</tspan><tspan x="4466" dy="14.7">+ validateAll()</tspan><tspan x="4466" dy="14.7">+ validateGameObject()</tspan><tspan x="4466" dy="14.7">+ validateMap()</tspan><tspan x="4466" dy="14.7">+ validateSquare()</tspan><tspan x="4466" dy="14.7">- DelegatingMapValidator()</tspan></text></g>
<g id="n47" class="k"><rect x="2302" y="2284" width="207" height="412.2"/><line x1="2302" y1="2367.5" x2="2509" y2="2367.5"/><line x1="2302" y1="2392.2" x2="2509" y2="2392.2"/>
<text class="t" x="2405.5" y="2299.5">net.sf.gridarta.project.<tspan x="2405.5" dy="14.7">ProjectModel&lt; G extends</tspan><tspan x="2405.5" dy="14.7">GameObject&lt; G, A, R, A</tspan><tspan x="2405.5" dy="14.7">extends MapArchObject&lt; A,</tspan><tspan x="2405.5" dy="14.7">R extends Archetype&lt; G, A, R &gt;</tspan></text>
<text x="2310" y="2383">- MapArchObject&lt; A &gt;</text>
<text x="2310" y="2407.7">+ getAnimationObjects()<tspan x="2310" dy="14.7">+ getArchetypeChooserModel()</tspan><tspan x="2310" dy="14.7">+ getArchetypeSet()</tspan><tspan x="2310" dy="14.7">+ getArchetypeTypeSet()</tspan><tspan x="2310" dy="14.7">+ getFaceObjectProviders()</tspan><tspan x="2310" dy="14.7">+ getFaceObjects()</tspan><tspan x="2310" dy="14.7">+ getGameObjectFactory()</tspan><tspan x="2310" dy="14.7">+ getGameObjectMatchers()</tspan><tspan x="2310" dy="14.7">+ getGameObjectParser()</tspan><tspan x="2310" dy="14.7">+ getGameObjectSpells()</tspan><tspan x="2310" dy="14.7">and 16 more...</tspan><tspan x="2310" dy="14.7">~ addArchetypes()</tspan><tspan x="2310" dy="14.7">~ loadArchetypes()</tspan><tspan x="2310" dy="14.7">~ loadArchetypeSpells()</tspan><tspan x="2310" dy="14.7">~ loadValidators()</tspan><tspan x="2310" dy="14.7">~ loadValidators()</tspan><tspan x="2310" dy="14.7">- loadArchetypeTypeSet()</tspan><tspan x="2310" dy="14.7">- loadGameObjectMatchers()</tspan><tspan x="2310" dy="14.7">- loadSpecialTreasureLists()</tspan><tspan x="2310" dy="14.7">- loadSpellFile()</tspan></text></g>
<g id="n48" class="k"><rect x="1218" y="2760" width="201" height="544.5"/><line x1="1218" y1="2799.4" x2="1419" y2="2799.4"/><line x1="1218" y1="3000.5" x2="1419" y2="3000.5"/>
<text class="t" x="1318.5" y="2775.5">net.sf.gridarta.project.<tspan x="1318.5" dy="14.7">ProjectModel&lt;?, ?, ?&gt;</tspan></text>
<text x="1226" y="2814.9">- animationObjects<tspan x="1226" dy="14.7">- archetypeChooserModel</tspan><tspan x="1226" dy="14.7">- archetypeSet</tspan><tspan x="1226" dy="14.7">- archetypeTypeSet</tspan><tspan x="1226" dy="14.7">- faceObjectProviders</tspan><tspan x="1226" dy="14.7">- faceObjects</tspan><tspan x="1226" dy="14.7">- gameObjectFactory</tspan><tspan x="1226" dy="14.7">- gameObjectMatchers</tspan><tspan x="1226" dy="14.7">- gameObjectParser</tspan><tspan x="1226" dy="14.7">- gameObjectSpells</tspan><tspan x="1226" dy="14.7">and 14 more...</tspan><tspan x="1226" dy="14.7">- LOG</tspan><tspan x="1226" dy="14.7">- MapArchObject&lt; A &gt;</tspan></text>
<text x="1226" y="3016">+ getAnimationObjects()<tspan x="1226" dy="14.7">+ getArchetypeChooserModel()</tspan><tspan x="1226" dy="14.7">+ getArchetypeSet()</tspan><tspan x="1226" dy="14.7">+ getArchetypeTypeSet()</tspan><tspan x="1226" dy="14.7">+ getFaceObjectProviders()</tspan><tspan x="1226" dy="14.7">+ getFaceObjects()</tspan><tspan x="1226" dy="14.7">+ getGameObjectFactory()</tspan><tspan x="1226" dy="14.7">+ getGameObjectMatchers()</tspan><tspan x="1226" dy="14.7">+ getGameObjectParser()</tspan><tspan x="1226" dy="14.7">+ getGameObjectSpells()</tspan><tspan x="1226" dy="14.7">and 16 more...</tspan><tspan x="1226" dy="14.7">~ addArchetypes()</tspan><tspan x="1226" dy="14.7">~ loadArchetypes()</tspan><tspan x="1226" dy="14.7">~ loadArchetypeSpells()</tspan><tspan x="1226" dy="14.7">~ loadValidators()</tspan><tspan x="1226" dy="14.7">~ loadValidators()</tspan><tspan x="1226" dy="14.7">- loadArchetypeTypeSet()</tspan><tspan x="1226" dy="14.7">- loadGameObjectMatchers()</tspan><tspan x="1226" dy="14.7">- loadSpecialTreasureLists()</tspan><tspan x="1226" dy="14.7">- loadSpellFile()</tspan></text></g>
<g id="n49" class="k"><rect x="4" y="2989" width="172" height="88.8"/><line x1="4" y1="3028.4" x2="176" y2="3028.4"/><line x1="4" y1="3053.1" x2="176" y2="3053.1"/>
<text class="t" x="90" y="3004.5">net.sf.gridarta.commands.<tspan x="90" dy="14.7">Command</tspan></text><text x="12" y="3068.6">+ execute()</text></g>
<g id="n50" class="k"><rect x="122" y="3372" width="182" height="103.5" style="fill:#bfbfbf"/><line x1="122" y1="3411.4" x2="304" y2="3411.4"/><line x1="122" y1="3436.1" x2="304" y2="3436.1"/>
<text class="t" x="213" y="3387.5">net.sf.gridarta.commands.<tspan x="213" dy="14.7">CollectArchesCommand</tspan></text>
<text x="130" y="3451.6">+ CollectArchesCommand()<tspan x="130" dy="14.7">+ execute()</tspan></text></g>
</svg>
